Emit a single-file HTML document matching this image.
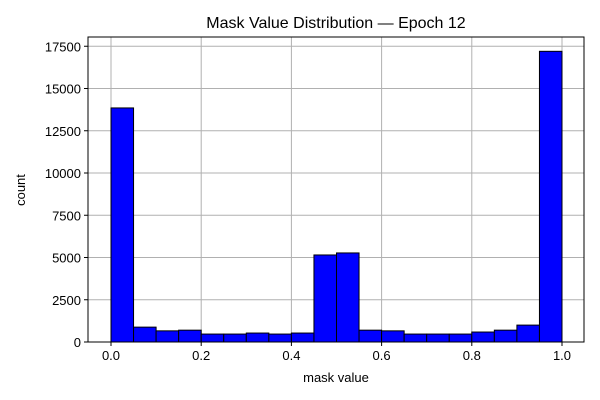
<!DOCTYPE html>
<html><head><meta charset="utf-8"><style>
body{margin:0;background:#fff}
svg{display:block;font-family:"Liberation Sans","DejaVu Sans",sans-serif}
</style></head><body>
<svg id="chart" width="600" height="400">
<text x="336" y="28" font-size="16" text-anchor="middle">Mask Value Distribution — Epoch 12</text>
<text x="336" y="382" font-size="13" text-anchor="middle">mask value</text>
<text x="25" y="190" font-size="13" text-anchor="middle" transform="rotate(-90 25 190)">count</text>
<g id="grid"></g><g id="bars"></g><g id="axes"></g>
</svg>
<script>
const binEdgesStart = 0, binWidth = 0.05;
const counts = [13850,880,660,700,470,470,530,470,530,5150,5270,700,660,470,470,470,590,700,1000,17200];
const xTicks = [0,0.2,0.4,0.6,0.8,1.0];
const xTickLabels = ["0.0","0.2","0.4","0.6","0.8","1.0"];
const yTicks = [0,2500,5000,7500,10000,12500,15000,17500];
const yTickLabels = ["0","2500","5000","7500","10000","12500","15000","17500"];
const L=88,R=584,T=37,B=342;
const x=v=>111+v*451;
const y=v=>342-v*(42.25/2500);
const ns="http://www.w3.org/2000/svg";
function mk(t,a,p){const e=document.createElementNS(ns,t);for(const k in a)e.setAttribute(k,a[k]);p.appendChild(e);return e;}
const g=document.getElementById('grid'),b=document.getElementById('bars'),ax=document.getElementById('axes');
xTicks.forEach((v,i)=>{
 const l=mk('line',{x1:x(v),x2:x(v),y1:T,y2:B,stroke:'#b0b0b0','stroke-width':1},g);
 
 
 mk('line',{x1:x(v),x2:x(v),y1:B,y2:B+4,stroke:'#000'},ax);
 const t=mk('text',{x:x(v),y:B+18,'font-size':13,'text-anchor':'middle'},ax);t.textContent=xTickLabels[i];
 
 
});
yTicks.forEach((v,i)=>{
 const l=mk('line',{x1:L,x2:R,y1:y(v),y2:y(v),stroke:'#b0b0b0','stroke-width':1},g);
 
 
 mk('line',{x1:L-4,x2:L,y1:y(v),y2:y(v),stroke:'#000'},ax);
 const t=mk('text',{x:L-7,y:y(v)+5,'font-size':13,'text-anchor':'end'},ax);t.textContent=yTickLabels[i];
 
 
});
counts.forEach((c,i)=>{
 const x0=x(binEdgesStart+i*binWidth),x1=x(binEdgesStart+(i+1)*binWidth);
 const r=mk('rect',{x:x0,y:y(c),width:x1-x0,height:B-y(c),fill:'#0000ff',stroke:'#000','stroke-width':1},b);
 
 
});
const f=mk('rect',{x:L,y:T,width:R-L,height:B-T,fill:'none',stroke:'#000','stroke-width':1},ax);


</script>
</body></html>
